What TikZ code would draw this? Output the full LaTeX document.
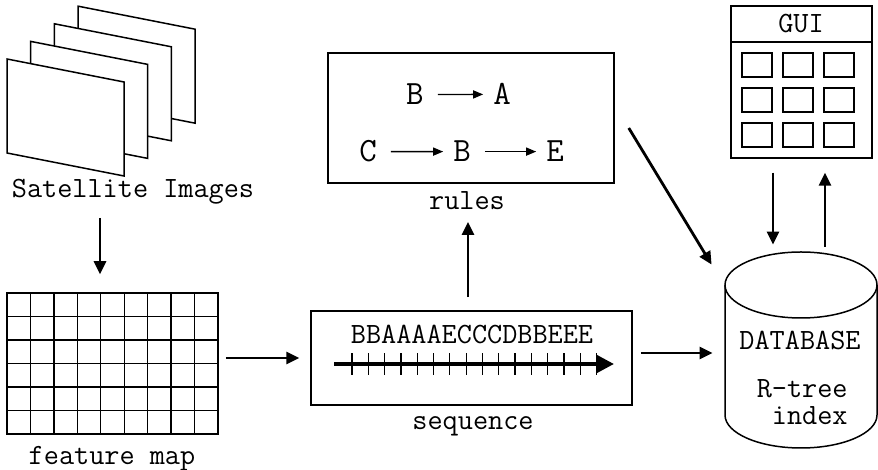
\documentclass[tikz,border=0pt]{standalone}
\usepackage{fontspec}
\usetikzlibrary{positioning,arrows.meta}

\begin{document}
\begin{tikzpicture}[
  x=0.5pt,y=0.5pt,
  every node/.style={font=\ttfamily\fontsize{14.7}{17}\selectfont},
  box/.style={draw,line width=0.75pt,inner sep=0pt},
  caption/.style={anchor=base,inner sep=0pt},
  letter/.style={anchor=base,font=\ttfamily\fontsize{17}{19}\selectfont},
  flow/.style={-{Triangle[length=6.5pt,width=6pt]},line width=1.4pt},
  ruleflow/.style={-{Triangle[length=5pt,width=4pt]},line width=0.7pt,
                   shorten <=3.5pt,shorten >=1.5pt},
  cell/.style={line width=0.7pt}
]
\useasboundingbox (0,0) rectangle (878,470);

% stack of images, back to front
\foreach \i in {3,2,1,0}
  \filldraw[fill=white,line width=0.75pt,shift={(\i*23.7,\i*17.6)}]
    (7,411) -- (124,388) -- (124,294) -- (7,317) -- cycle;
\node[caption] (sat) at (133,272) {Satellite Images};

% feature map grid
\node[box,minimum width=105.5pt,minimum height=70.5pt] (fmap) at (112.5,106.5) {};
\foreach \c in {1,...,8}
  \draw[cell] ({7+\c*211/9},36) -- ++(0,141);
\foreach \r in {1,...,5}
  \draw[cell] (7,{36+\r*23.5}) -- ++(211,0);
\node[caption] (fmaplabel) at (112,5) {feature map};

% sequence box
\node[box,minimum width=160.5pt,minimum height=47pt] (seq) at (471.5,112) {};
\node[caption] (seqtext) at (472,126) {BBAAAAECCCDBBEEE};
\draw[-{Triangle[length=9pt,width=9pt]},line width=2pt] (334,106) -- (614,106);
\foreach \t in {0,...,15}
  \draw[line width=0.6pt] ({352+\t*16.3},95) -- ++(0,22);
\node[caption] (seqlabel) at (473,40) {sequence};

% rules box
\node[box,minimum width=143pt,minimum height=65pt] (rules) at (471,352) {};
\node[letter] (rb) at (415,365) {B};
\node[letter] (ra) at (502,365) {A};
\node[letter] (rc) at (368,308) {C};
\node[letter] (rbb) at (462,308) {B};
\node[letter] (re) at (555,308) {E};
\draw[ruleflow] (rb) -- (ra);
\draw[ruleflow] (rc) -- (rbb);
\draw[ruleflow] (rbb) -- (re);
\node[caption] (ruleslabel) at (467,260) {rules};

% GUI window
\node[box,minimum width=70.5pt,minimum height=76pt] (gui) at (801.5,388) {};
\draw[line width=0.75pt] (gui.west |- 0,428) -- (gui.east |- 0,428);
\node[caption] (guititle) at (801,437) {GUI};
\foreach \cx in {742,783,824}
  \foreach \cy in {323,358,393}
    \draw[line width=0.75pt] (\cx,\cy) rectangle ++(30,24);

% database cylinder
\node[inner sep=0pt,minimum width=76pt,minimum height=98pt] (db) at (801,120) {};
\draw[line width=0.75pt,fill=white] (725,185) -- (725,55)
  arc[start angle=180,end angle=360,x radius=38pt,y radius=16.5pt] -- (877,185);
\draw[line width=0.75pt] (801,185) ellipse[x radius=38pt,y radius=16.5pt];
\node[caption] (dbname) at (800,120) {DATABASE};
\node[caption,anchor=base east] (dbtree) at (848,72) {R-tree};
\node[caption,anchor=base east] (dbindex) at (848,45) {index};

% connectors
\draw[flow] ([xshift=-16.5pt,yshift=-10pt]sat.base) -- ([xshift=-6.25pt,yshift=9pt]fmap.north);
\draw[flow] ([xshift=3.5pt]fmap.east |- seq.west) -- ([xshift=-5.5pt]seq.west);
\draw[flow] ([xshift=-1.75pt,yshift=6.5pt]seq.north) -- ([xshift=0.5pt,yshift=-6pt]ruleslabel.base);
\draw[flow] ([xshift=7pt,yshift=-5pt]rules.east) -- ([xshift=-6.5pt,yshift=-6.5pt]db.north west);
\draw[flow] ([xshift=4pt,yshift=2.5pt]seq.east) -- ([xshift=-6pt,yshift=-1.5pt]db.west);
\draw[flow] ([xshift=-14.25pt,yshift=-7pt]gui.south) -- ([xshift=-14pt,yshift=3.5pt]db.north);
\draw[flow] ([xshift=12pt,yshift=2.5pt]db.north) -- ([xshift=11.75pt,yshift=-7pt]gui.south);
\end{tikzpicture}
\end{document}
